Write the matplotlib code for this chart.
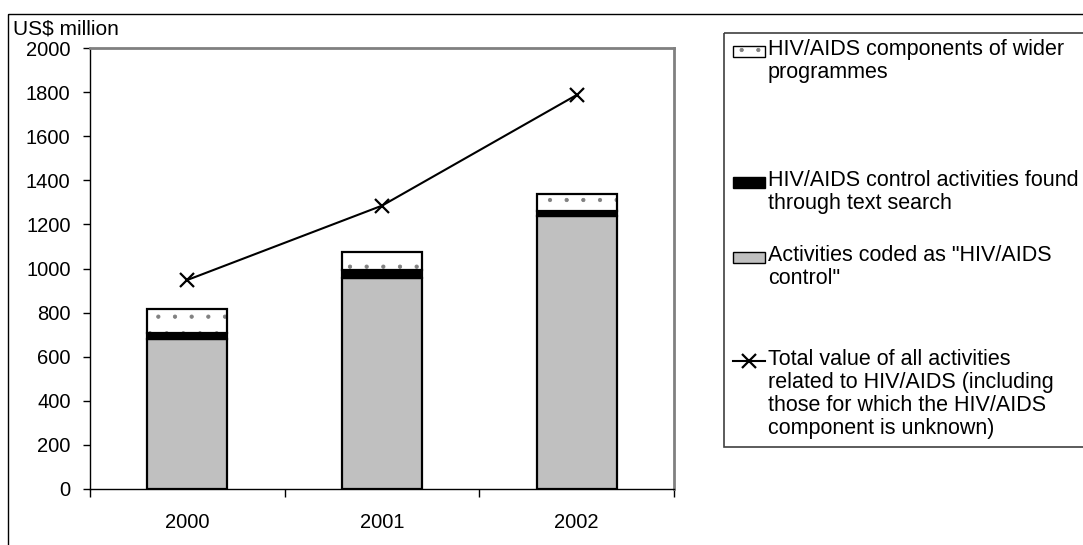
import matplotlib.pyplot as plt
import numpy as np
from matplotlib.patches import Rectangle
from matplotlib.lines import Line2D

plt.rcParams['font.family'] = ['Liberation Sans', 'DejaVu Sans']
plt.rcParams['hatch.linewidth'] = 0.6

years = ['2000', '2001', '2002']
coded = np.array([680, 955, 1238])          # activities coded as "HIV/AIDS control"
text_search = np.array([27, 40, 24])        # found through text search
wider = np.array([108, 78, 76])             # components of wider programmes
total_all = np.array([948, 1285, 1787])     # total value of all related activities

labels = ['HIV/AIDS components of wider\nprogrammes',
          'HIV/AIDS control activities found\nthrough text search',
          'Activities coded as "HIV/AIDS\ncontrol"',
          'Total value of all activities\nrelated to HIV/AIDS (including\nthose for which the HIV/AIDS\ncomponent is unknown)']

W, H = 1083, 545
fig = plt.figure(figsize=(W / 100, H / 100), dpi=100)

ax = fig.add_axes([90 / W, 1 - 489 / H, (674 - 90) / W, (489 - 48) / H])
x = np.arange(len(years))
bw = 0.41

ax.bar(x, coded, bw, color='#c0c0c0', edgecolor='black', linewidth=1.6, zorder=2)
ax.bar(x, text_search, bw, bottom=coded, color='black', edgecolor='black', linewidth=1.6, zorder=2)
ax.bar(x, wider, bw, bottom=coded + text_search, color='white', edgecolor='#808080',
       hatch='.', linewidth=0, zorder=2)
ax.bar(x, wider, bw, bottom=coded + text_search, fill=False, edgecolor='black',
       linewidth=1.6, zorder=3)
ax.plot(x, total_all, color='black', linewidth=1.5, marker='x', markersize=10,
        markeredgewidth=1.6, zorder=4)

ax.set_xlim(-0.5, 2.5)
ax.set_ylim(0, 2000)
ax.set_yticks(np.arange(0, 2001, 200))
ax.set_xticks(x)
ax.set_xticklabels(years)
ax.set_xticks([-0.5, 0.5, 1.5, 2.5], minor=True)
ax.tick_params(axis='y', direction='out', length=5, width=1, pad=9, labelsize=14.5)
ax.tick_params(axis='x', which='major', length=0, pad=17, labelsize=14.5)
ax.tick_params(axis='x', which='minor', direction='out', length=6, width=1)
for s in ['top', 'right']:
    ax.spines[s].set_color('#808080')
    ax.spines[s].set_linewidth(2)
for s in ['left', 'bottom']:
    ax.spines[s].set_color('black')
    ax.spines[s].set_linewidth(1)

# overlay in pixel units for frame, unit label and legend
ov = fig.add_axes([0, 0, 1, 1], zorder=10)
ov.set_xlim(0, W)
ov.set_ylim(H, 0)
ov.axis('off')
ov.patch.set_alpha(0)
ov.add_patch(Rectangle((8, 14), W, H, fill=False, edgecolor='black', linewidth=1))
ov.text(13, 29, 'US$ million', fontsize=15, va='center', ha='left')

ov.add_patch(Rectangle((724, 33), 400, 414, fill=False, edgecolor='#404040', linewidth=1.2))
fs = 15.5
ys = [51, 182, 257, 361]
hx, hw, hh = 733, 32, 11
# dotted handle
ov.add_patch(Rectangle((hx, ys[0] - hh / 2), hw, hh, facecolor='white', edgecolor='#808080',
                       hatch='.', linewidth=0))
ov.add_patch(Rectangle((hx, ys[0] - hh / 2), hw, hh, fill=False, edgecolor='black', linewidth=1))
ov.add_patch(Rectangle((hx, ys[1] - hh / 2), hw, hh, facecolor='black', edgecolor='black', linewidth=1))
ov.add_patch(Rectangle((hx, ys[2] - hh / 2), hw, hh, facecolor='#c0c0c0', edgecolor='black', linewidth=1))
ov.add_line(Line2D([hx, hx + hw], [ys[3], ys[3]], color='black', linewidth=1.5))
ov.plot([hx + hw / 2], [ys[3]], marker='x', color='black', markersize=10, markeredgewidth=1.6)
for yy, lab in zip(ys, labels):
    ov.text(hx + hw + 3, yy - 12, lab, fontsize=fs, va='top', ha='left', linespacing=1.12)

fig.savefig('out.png', dpi=100)
